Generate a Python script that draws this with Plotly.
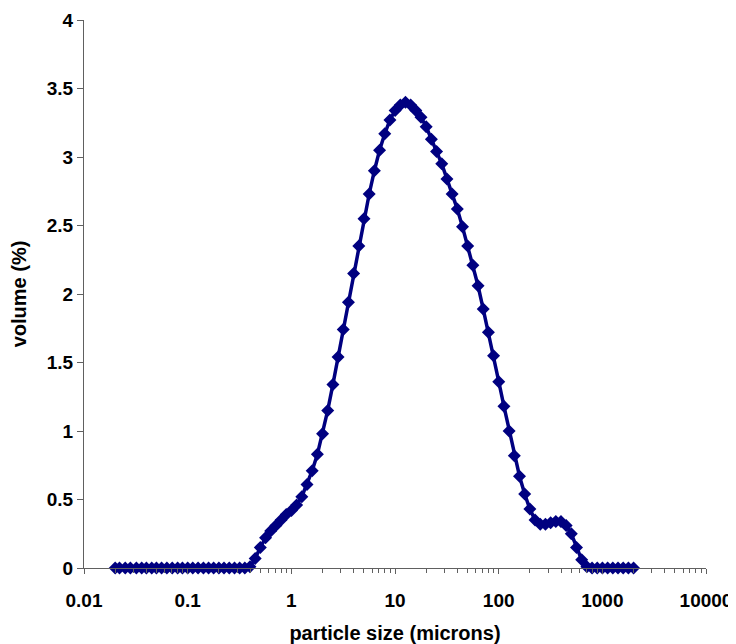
import plotly.graph_objects as go

particle_size = [0.020, 0.022, 0.025, 0.028, 0.032, 0.036, 0.040, 0.045, 0.050, 0.056,
                 0.063, 0.071, 0.080, 0.089, 0.100, 0.112, 0.126, 0.142, 0.159, 0.178,
                 0.200, 0.224, 0.252, 0.283, 0.317, 0.356, 0.399, 0.448, 0.502, 0.564,
                 0.632, 0.710, 0.796, 0.893, 1.002, 1.125, 1.262, 1.416, 1.589, 1.783,
                 2.000, 2.244, 2.518, 2.825, 3.170, 3.557, 3.991, 4.477, 5.024, 5.637,
                 6.325, 7.096, 7.962, 8.934, 10.024, 11.247, 12.619, 14.159, 15.887, 17.825,
                 20.000, 22.440, 25.179, 28.251, 31.698, 35.566, 39.905, 44.774, 50.238, 56.368,
                 63.246, 70.963, 79.621, 89.337, 100.237, 112.468, 126.191, 141.589, 158.866, 178.250,
                 200.000, 224.404, 251.785, 282.508, 316.979, 355.656, 399.052, 447.744, 502.377, 563.677,
                 632.456, 709.627, 796.214, 893.367, 1002.374, 1124.683, 1261.915, 1415.892, 1588.656, 1782.502,
                 2000.0]

volume = [0, 0, 0, 0, 0, 0, 0, 0, 0, 0,
          0, 0, 0, 0, 0, 0, 0, 0, 0, 0,
          0, 0, 0, 0, 0, 0, 0.01, 0.07, 0.15, 0.22,
          0.27, 0.31, 0.35, 0.39, 0.42, 0.46, 0.52, 0.61, 0.71, 0.83,
          0.98, 1.15, 1.34, 1.54, 1.74, 1.94, 2.15, 2.35, 2.55, 2.73,
          2.90, 3.05, 3.17, 3.27, 3.34, 3.38, 3.40, 3.38, 3.34, 3.29,
          3.22, 3.13, 3.04, 2.95, 2.84, 2.73, 2.62, 2.49, 2.35, 2.21,
          2.06, 1.89, 1.72, 1.55, 1.36, 1.18, 1.00, 0.82, 0.67, 0.54,
          0.43, 0.35, 0.32, 0.32, 0.33, 0.34, 0.34, 0.31, 0.25, 0.15,
          0.06, 0.01, 0, 0, 0, 0, 0, 0, 0, 0,
          0]

x_tick_vals = [0.01, 0.1, 1, 10, 100, 1000, 10000]
x_tick_text = ["0.01", "0.1", "1", "10", "100", "1000", "10000"]
minor_vals = [m * 10.0 ** e for e in range(-2, 4) for m in range(2, 10)]

font_family = "Liberation Sans, Arial, sans-serif"
tick_font = dict(family=font_family, size=19, color="black", weight="bold")
title_font = dict(family=font_family, size=20, color="black", weight="bold")

fig = go.Figure()
fig.add_trace(go.Scatter(
    x=particle_size, y=volume, mode="lines+markers",
    line=dict(color="#000080", width=3.5),
    marker=dict(symbol="diamond", size=10, color="#000080"),
    showlegend=False, cliponaxis=False,
))

fig.update_layout(
    width=736, height=636,
    margin=dict(l=76, r=38, t=12, b=76),
    paper_bgcolor="white", plot_bgcolor="white",
    font=dict(family=font_family, size=16, color="black"),
)
fig.update_xaxes(
    type="log", range=[-2, 4], automargin=False,
    tickmode="array", tickvals=x_tick_vals, ticktext=x_tick_text,
    ticks="outside", ticklen=5, tickwidth=1, tickcolor="#606060",
    ticklabelstandoff=10,
    minor=dict(tickmode="array", tickvals=minor_vals, ticks="outside", ticklen=4,
               tickwidth=1, tickcolor="#606060", showgrid=False),
    showline=True, linecolor="#606060", linewidth=1,
    showgrid=False, zeroline=False,
    tickfont=tick_font,
    title=dict(text="particle size (microns)", standoff=20, font=title_font),
)
fig.update_yaxes(
    range=[0, 4], dtick=0.5, tick0=0, automargin=False,
    ticks="outside", ticklen=6, tickwidth=1, tickcolor="#606060",
    showline=True, linecolor="#606060", linewidth=1,
    showgrid=False, zeroline=False,
    tickfont=tick_font,
    title=dict(text="volume (%)", standoff=14, font=title_font),
)

fig.write_html("out.html")
